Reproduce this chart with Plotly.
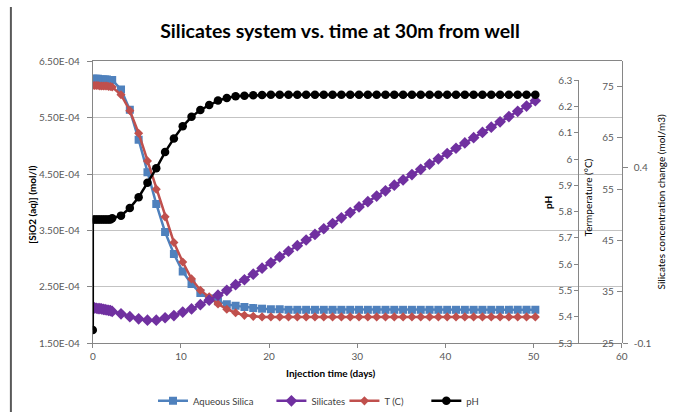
import plotly.graph_objects as go

# ---------------- data ----------------
time_days = [0.0, 0.2, 0.4, 0.6, 0.8, 1.0, 1.2, 1.4, 1.6, 1.8, 2.0, 2.2,
             3.2, 4.2, 5.2, 6.2, 7.2, 8.2, 9.2, 10.2, 11.2, 12.2, 13.2, 14.2,
             15.2, 16.2, 17.2, 18.2, 19.2, 20.2, 21.2, 22.2, 23.2, 24.2, 25.2,
             26.2, 27.2, 28.2, 29.2, 30.2, 31.2, 32.2, 33.2, 34.2, 35.2, 36.2,
             37.2, 38.2, 39.2, 40.2, 41.2, 42.2, 43.2, 44.2, 45.2, 46.2, 47.2,
             48.2, 49.2, 50.2]

aqueous_silica = [6.19e-4, 6.19e-4, 6.19e-4, 6.19e-4, 6.18e-4, 6.18e-4, 6.18e-4,
                  6.18e-4, 6.18e-4, 6.17e-4, 6.17e-4, 6.17e-4,
                  6.00e-4, 5.64e-4, 5.11e-4, 4.53e-4, 3.97e-4, 3.47e-4, 3.08e-4,
                  2.77e-4, 2.55e-4, 2.39e-4, 2.29e-4, 2.24e-4, 2.19e-4, 2.16e-4,
                  2.14e-4, 2.12e-4, 2.11e-4, 2.10e-4, 2.10e-4, 2.09e-4, 2.09e-4,
                  2.09e-4, 2.09e-4, 2.09e-4, 2.09e-4, 2.09e-4, 2.09e-4, 2.09e-4,
                  2.09e-4, 2.09e-4, 2.09e-4, 2.09e-4, 2.09e-4, 2.09e-4, 2.09e-4,
                  2.09e-4, 2.09e-4, 2.09e-4, 2.09e-4, 2.09e-4, 2.09e-4, 2.09e-4,
                  2.09e-4, 2.09e-4, 2.09e-4, 2.09e-4, 2.09e-4, 2.09e-4]

silicates = [0.000, 0.000, -0.001, -0.002, -0.002, -0.003, -0.004, -0.005,
             -0.006, -0.007, -0.008, -0.010,
             -0.017, -0.025, -0.031, -0.035, -0.035, -0.028, -0.022, -0.012,
             -0.003, 0.009, 0.022, 0.036, 0.050, 0.066, 0.080, 0.096, 0.113,
             0.128, 0.145, 0.161, 0.177, 0.193, 0.209, 0.225, 0.240, 0.256,
             0.271, 0.287, 0.302, 0.318, 0.333, 0.349, 0.364, 0.379, 0.394,
             0.409, 0.424, 0.439, 0.454, 0.469, 0.484, 0.499, 0.514, 0.529,
             0.544, 0.559, 0.574, 0.589]

temperature_c = [75.2, 75.2, 75.2, 75.2, 75.1, 75.1, 75.1, 75.1, 75.1, 75.0,
                 75.0, 74.9,
                 73.4, 70.3, 65.9, 60.5, 55.0, 49.6, 44.6, 40.8, 37.5, 35.3,
                 34.0, 32.6, 31.6, 30.9, 30.4, 30.2, 30.1, 30.1, 30.1, 30.1,
                 30.1, 30.1, 30.1, 30.1, 30.1, 30.1, 30.1, 30.1, 30.1, 30.1,
                 30.1, 30.1, 30.1, 30.1, 30.1, 30.1, 30.1, 30.1, 30.1, 30.1,
                 30.1, 30.1, 30.1, 30.1, 30.1, 30.1, 30.1, 30.1]

ph_time_days = [0.0] + time_days
ph_values = [5.35,
             5.77, 5.77, 5.77, 5.77, 5.77, 5.77, 5.77, 5.77, 5.77, 5.77, 5.77, 5.775,
             5.785, 5.814, 5.855, 5.910, 5.965, 6.027, 6.079, 6.125, 6.161, 6.187,
             6.206, 6.223, 6.233, 6.239, 6.241, 6.243, 6.244, 6.245, 6.245, 6.245,
             6.245, 6.245, 6.245, 6.245, 6.245, 6.245, 6.245, 6.245, 6.245, 6.245,
             6.245, 6.245, 6.245, 6.245, 6.245, 6.245, 6.245, 6.245, 6.245, 6.245,
             6.245, 6.245, 6.245, 6.245, 6.245, 6.245, 6.245, 6.245]

x_ticks = [0, 10, 20, 30, 40, 50, 60]
silica_ticks = [1.5e-4, 2.5e-4, 3.5e-4, 4.5e-4, 5.5e-4, 6.5e-4]
silica_ticktext = ["1.50E-04", "2.50E-04", "3.50E-04", "4.50E-04", "5.50E-04", "6.50E-04"]
temp_ticks = [25, 35, 45, 55, 65, 75]
sil_change_ticks = [-0.1, 0.4]
sil_change_ticktext = ["-0.1", "0.4"]
ph_ticks = [5.3, 5.4, 5.5, 5.6, 5.7, 5.8, 5.9, 6.0, 6.1, 6.2, 6.3]
ph_ticktext = ["5.3", "5.4", "5.5", "5.6", "5.7", "5.8", "5.9", "6", "6.1", "6.2", "6.3"]

# ---------------- styling ----------------
W, H = 683, 417
FONT = "Lato"
BLUE, PURPLE, RED, BLACK = "#4F81BD", "#7030A0", "#C0504D", "#000000"
AXIS_COL = "#868686"
GRID_COL = "#C3C3C3"
TICK_FONT = dict(family=FONT, size=10, color="#595959")

def px_x(p):
    return p / W

def px_y(p):
    return (H - p) / H

plot_left, plot_right, plot_top, plot_bottom = 91, 627, 56, 346
ph_top = 75.5

fig = go.Figure()

fig.add_trace(go.Scatter(
    x=time_days, y=aqueous_silica, name="Aqueous Silica", mode="lines+markers",
    line=dict(color=BLUE, width=2.5), marker=dict(symbol="square", size=8, color=BLUE),
    xaxis="x", yaxis="y", legend="legend"))
fig.add_trace(go.Scatter(
    x=time_days, y=temperature_c, name="T (C)", mode="lines+markers",
    line=dict(color=RED, width=2.5), marker=dict(symbol="diamond", size=7, color=RED),
    xaxis="x", yaxis="y2", legend="legend3"))
fig.add_trace(go.Scatter(
    x=time_days, y=silicates, name="Silicates", mode="lines+markers",
    line=dict(color=PURPLE, width=2.5), marker=dict(symbol="diamond", size=9, color=PURPLE),
    xaxis="x", yaxis="y3", legend="legend2"))
fig.add_trace(go.Scatter(
    x=ph_time_days, y=ph_values, name="pH", mode="lines+markers",
    line=dict(color=BLACK, width=2.5), marker=dict(symbol="circle", size=8.5, color=BLACK),
    xaxis="x", yaxis="y4", legend="legend4"))

main_dom = [px_y(plot_bottom), px_y(plot_top)]

def legend_at(xpix):
    return dict(x=px_x(xpix), y=px_y(405.5), xanchor="left", yanchor="middle",
                orientation="h", bgcolor="rgba(0,0,0,0)", borderwidth=0,
                font=dict(family=FONT, size=9.5, color="#404040"))

fig.update_layout(
    width=W, height=H,
    margin=dict(l=0, r=0, t=0, b=0),
    paper_bgcolor="white", plot_bgcolor="rgba(0,0,0,0)",
    font=dict(family=FONT),
    title=dict(text="<b>Silicates system vs. time at 30m from well</b>",
               x=340 / W, xanchor="center", y=px_y(31), yanchor="middle",
               font=dict(family=FONT, size=19.5, color="#000000")),
    xaxis=dict(domain=[px_x(plot_left), px_x(plot_right)], range=[0, 60],
               tickvals=x_ticks, ticks="outside", ticklen=4, tickcolor=AXIS_COL,
               showline=True, linecolor=AXIS_COL, linewidth=1, mirror=True,
               showgrid=False, zeroline=False, tickfont=TICK_FONT, anchor="y"),
    yaxis=dict(domain=main_dom, range=[1.5e-4, 6.5e-4],
               tickvals=silica_ticks, ticktext=silica_ticktext,
               ticks="outside", ticklen=5, tickcolor=AXIS_COL,
               showline=True, linecolor=AXIS_COL, linewidth=1,
               showgrid=True, gridcolor=GRID_COL, gridwidth=1, zeroline=False,
               tickfont=TICK_FONT, ticklabelstandoff=5),
    yaxis2=dict(overlaying="y", anchor="free", position=px_x(plot_right), side="left",
                range=[25, 79.9], tickvals=temp_ticks, ticks="outside", ticklen=5,
                tickcolor=AXIS_COL, showline=True, linecolor=AXIS_COL, linewidth=1,
                showgrid=False, zeroline=False, tickfont=TICK_FONT, ticklabelstandoff=1),
    yaxis3=dict(overlaying="y", anchor="free", position=px_x(plot_right), side="right",
                range=[-0.1, 0.701], tickvals=sil_change_ticks, ticktext=sil_change_ticktext,
                ticks="outside", ticklen=5, tickcolor=AXIS_COL, showline=True,
                linecolor=AXIS_COL, linewidth=1, showgrid=False, zeroline=False,
                tickfont=TICK_FONT, ticklabelstandoff=4),
    yaxis4=dict(domain=[px_y(plot_bottom), px_y(ph_top)], anchor="free",
                position=px_x(583), side="left", range=[5.3, 6.3],
                tickvals=ph_ticks, ticktext=ph_ticktext, ticks="outside", ticklen=4,
                tickcolor=AXIS_COL, showline=True, linecolor=AXIS_COL, linewidth=1,
                showgrid=False, zeroline=False, tickfont=TICK_FONT),
    legend=legend_at(152),
    legend2=legend_at(272),
    legend3=legend_at(346),
    legend4=legend_at(429),
    showlegend=True,
)

title_font_b = dict(family=FONT, size=10, color="#000000")
annots = [
    dict(text="<b>Injection time (days)</b>", x=px_x(332), y=px_y(377), textangle=0),
    dict(text="<b>[SiO2 (aq)] (mol/l)</b>", x=px_x(30), y=px_y(204), textangle=-90),
    dict(text="<b>pH</b>", x=px_x(552), y=px_y(201), textangle=-90),
    dict(text="Termperature (°C)", x=px_x(593), y=px_y(196), textangle=-90),
    dict(text="Silicates concentration change (mol/m3)", x=px_x(667), y=px_y(201), textangle=-90),
]
for a in annots:
    fig.add_annotation(xref="paper", yref="paper", xanchor="center", yanchor="middle",
                       showarrow=False, font=title_font_b, **a)

# outer chart frame (left edge visible in the reference)
fig.add_shape(type="line", xref="paper", yref="paper", x0=px_x(8), x1=px_x(8), y0=0, y1=1,
              line=dict(color="#595959", width=2))

fig.write_html("out.html")
